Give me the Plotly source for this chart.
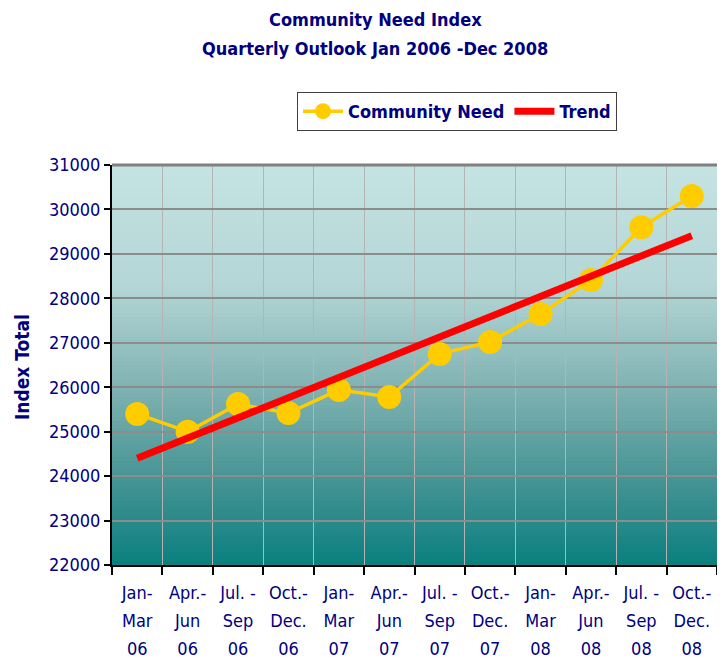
import plotly.graph_objects as go

categories = ["Jan-<br>Mar<br>06", "Apr.-<br>Jun<br>06", "Jul. -<br>Sep<br>06", "Oct.-<br>Dec.<br>06",
              "Jan-<br>Mar<br>07", "Apr.-<br>Jun<br>07", "Jul. -<br>Sep<br>07", "Oct.-<br>Dec.<br>07",
              "Jan-<br>Mar<br>08", "Apr.-<br>Jun<br>08", "Jul. -<br>Sep<br>08", "Oct.-<br>Dec.<br>08"]
community_need = [25400, 25000, 25620, 25420, 25940, 25780, 26750, 27020, 27650, 28410, 29600, 30300]
trend_categories = [categories[0], categories[-1]]
trend_values = [24400, 29410]
y_ticks = [22000, 23000, 24000, 25000, 26000, 27000, 28000, 29000, 30000, 31000]

NAVY = "#000080"
FONT = "Liberation Sans Narrow, DejaVu Sans Condensed, Arial Narrow, Liberation Sans, sans-serif"

# the page has an 8px body margin; the figure is sized to fit the visible area
W, H = 709, 652
L, T, B, R = 104, 157, 95, 0
PW, PH = W - L - R, H - T - B  # plot area size


def px_x(x_page):
    return (x_page - 8 - L) / PW


def px_y(y_page):
    return (H - B - (y_page - 8)) / PH


fig = go.Figure()
fig.add_trace(go.Scatter(
    x=categories, y=community_need, name="Community Need", mode="lines+markers",
    line=dict(color="#ffcc00", width=3.5),
    marker=dict(color="#ffcc00", size=24),
))
fig.add_trace(go.Scatter(
    x=trend_categories, y=trend_values, name="Trend", mode="lines",
    line=dict(color="#ff0000", width=7),
))

# gradient background
stops = [(0.0, (197, 227, 227)), (0.3, (180, 214, 214)), (0.55, (130, 179, 179)),
         (0.8, (66, 146, 146)), (1.0, (10, 128, 128))]


def col(t):
    for (t0, c0), (t1, c1) in zip(stops[:-1], stops[1:]):
        if t0 <= t <= t1:
            f = (t - t0) / (t1 - t0)
            return "rgb(%d,%d,%d)" % tuple(round(a + (b - a) * f) for a, b in zip(c0, c1))
    return "rgb(%d,%d,%d)" % stops[-1][1]


N = 100
shapes = []
for i in range(N):
    t = (i + 0.5) / N  # from top
    shapes.append(dict(type="rect", xref="x domain", yref="y domain", layer="below",
                       x0=0, x1=1, y0=max(0, 1 - (i + 1) / N - 0.002), y1=1 - i / N,
                       fillcolor=col(t), line=dict(width=0)))
shapes.append(dict(type="line", xref="x domain", yref="y domain", x0=0, x1=1, y0=1, y1=1,
                   line=dict(color="#808080", width=3)))

# tick labels drawn at 18px, with the line spacing of a larger base font
tick_text = ['<span style="font-size:18px">' + c + "</span>" for c in categories]

fig.update_layout(
    width=W, height=H,
    margin=dict(l=L, r=R, t=T, b=B, autoexpand=False),
    paper_bgcolor="white", plot_bgcolor="white",
    shapes=shapes,
    font=dict(family=FONT, color=NAVY, size=18),
    showlegend=True,
    legend=dict(orientation="h", x=px_x(297), y=px_y(92), xanchor="left", yanchor="top",
                bgcolor="white", bordercolor="#404040", borderwidth=1,
                font=dict(family=FONT, size=18, color=NAVY, weight="bold"),
                itemwidth=40, tracegroupgap=0),
    annotations=[
        dict(text="<b>Community Need Index</b>", xref="paper", yref="paper", x=px_x(375),
             y=px_y(20), xanchor="center", yanchor="middle", showarrow=False,
             font=dict(family=FONT, size=18, color=NAVY)),
        dict(text="<b>Quarterly Outlook Jan 2006 -Dec 2008</b>", xref="paper", yref="paper",
             x=px_x(375), y=px_y(48), xanchor="center", yanchor="middle",
             showarrow=False, font=dict(family=FONT, size=18, color=NAVY)),
        dict(text="<b>Index Total</b>", xref="paper", yref="paper", x=px_x(22),
             y=px_y(367), xanchor="center", yanchor="middle", textangle=-90,
             showarrow=False, font=dict(family=FONT, size=19, color=NAVY)),
    ],
)
fig.update_xaxes(
    type="category", categoryorder="array", categoryarray=categories,
    tickmode="array", tickvals=categories, ticktext=tick_text,
    range=[-0.5, 11.5], tickson="boundaries",
    showgrid=True, gridcolor="#b4b4b4", gridwidth=1,
    showline=True, linecolor="black", linewidth=2,
    ticks="outside", ticklen=8, tickcolor="black", tickwidth=1.5,
    tickfont=dict(family=FONT, size=21.5, color=NAVY), tickangle=0,
    ticklabelstandoff=6,
    zeroline=False,
)
fig.update_yaxes(
    range=[22000, 31000], tickvals=y_ticks, ticktext=[str(v) for v in y_ticks],
    showgrid=True, gridcolor="#8c8c8c", gridwidth=1.5,
    showline=True, linecolor="black", linewidth=2,
    ticks="outside", ticklen=6, tickcolor="black", tickwidth=1.5,
    tickfont=dict(family=FONT, size=18, color=NAVY),
    zeroline=False,
)

fig.write_html("out.html")
